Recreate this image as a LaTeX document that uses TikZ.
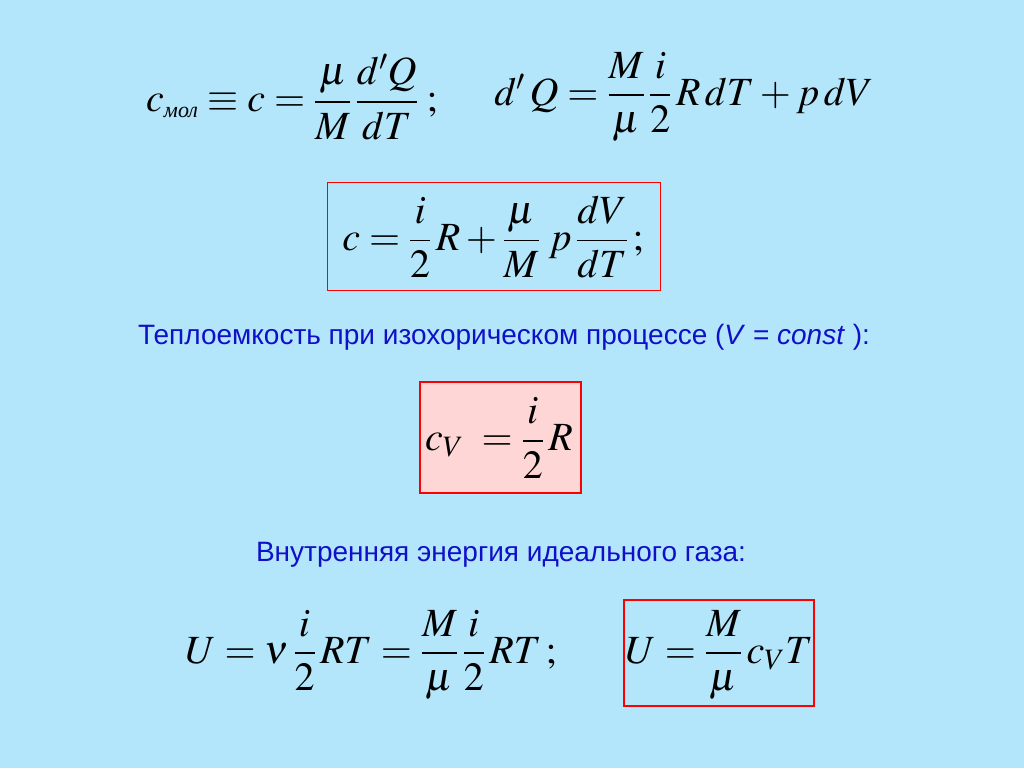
\documentclass[tikz,border=0pt]{standalone}
\usepackage{amsmath}
\usepackage{mathptmx}
\usepackage{fontspec}
\setmainfont{Liberation Serif}
\setsansfont{Liberation Sans}
\definecolor{bg}{HTML}{B4E6FB}
\definecolor{tblue}{HTML}{1010C8}
\definecolor{pinkf}{HTML}{FFD6D6}
\begin{document}
\begin{tikzpicture}[x=1pt,y=-1pt,
  fm/.style={inner sep=0pt,font=\fontsize{40}{46}\selectfont},
  tx/.style={inner sep=0pt,text=tblue,font=\sffamily\fontsize{28}{32}\selectfont},
  bx/.style={draw=red,line width=0.8pt}]
\fill[bg] (0,0) rectangle (1024,768);
\useasboundingbox (0,0) rectangle (1024,768);
\node[fm] (f1) at (292,97) {$c_{\text{\itshape\fontsize{22}{24}\selectfont мол}}\equiv c=\dfrac{\mu}{M}\,\dfrac{d'Q}{dT}\;;$};
\node[fm] (f2) at (684,97) {$d'\,Q=\dfrac{M}{\mu}\,\dfrac{i}{2}\,R\,dT+p\,dV$};
\draw[bx,line width=0.5pt] (327,182) rectangle (660,290);
\node[fm] (f3) at (493,237) {$c=\dfrac{i}{2}\,R+\dfrac{\mu}{M}\;p\,\dfrac{dV}{dT}\,;$};
\node[tx] (t1) at (504,337) {Теплоемкость при изохорическом процессе (\textit{V} = \textit{const} ):};
\draw[bx,fill=pinkf,line width=1.5pt] (420,382) rectangle (581,493);
\node[fm] (f4) at (499,438) {$c_V\;=\dfrac{i}{2}\,R$};
\node[tx] (t2) at (501,555) {Внутренняя энергия идеального газа:};
\node[fm] (f5) at (371,655) {$U=\nu\,\dfrac{i}{2}\,RT=\dfrac{M}{\mu}\,\dfrac{i}{2}\,RT\,;$};
\draw[bx,line width=1.5pt] (624,600) rectangle (814,706);
\node[fm] (f6) at (719,655) {$U=\dfrac{M}{\mu}\,c_VT$};
\end{tikzpicture}
\end{document}
